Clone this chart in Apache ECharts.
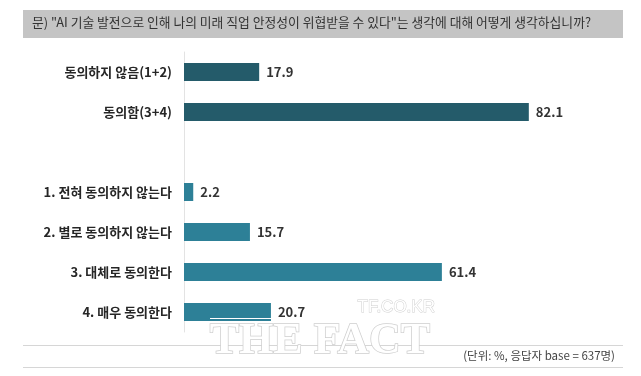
<!DOCTYPE html>
<html>
<head>
<meta charset="utf-8">
<script src="https://cdn.jsdelivr.net/npm/echarts@6/dist/echarts.min.js"></script>
<style>
  html, body { margin: 0; padding: 0; background: #fff; }
  #chart { width: 641px; height: 376px; }
</style>
</head>
<body>
<div id="chart"></div>
<script>
// 항목 (빈 칸은 두 묶음 사이 간격)
var categories = ['동의하지 않음(1+2)', '동의함(3+4)', '', '1. 전혀 동의하지 않는다', '2. 별로 동의하지 않는다', '3. 대체로 동의한다', '4. 매우 동의한다'];
var values = [17.9, 82.1, '-', 2.2, 15.7, 61.4, 20.7];
var barColors = ['#245b6a', '#245b6a', '#245b6a', '#2d8097', '#2d8097', '#2d8097', '#2d8097'];

var titleText = '문) "AI 기술 발전으로 인해 나의 미래 직업 안정성이 위협받을 수 있다"는 생각에 대해 어떻게 생각하십니까?';
var noteText = '(단위: %, 응답자 base = 637명)';

var font = '"Noto Sans CJK KR", "Noto Sans", sans-serif';

var chart = echarts.init(document.getElementById('chart'));
var option = {
    backgroundColor: '#fff',
    animation: false,
    grid: { left: 184, top: 52, width: 420, height: 280, containLabel: false },
    xAxis: {
        type: 'value', min: 0, max: 100,
        show: false
    },
    yAxis: {
        type: 'category',
        data: categories,
        inverse: true,
        axisLine: { show: true, lineStyle: { color: '#e3e3e3', width: 1 } },
        axisTick: { show: false },
        axisLabel: {
            margin: 12,
            fontFamily: font,
            fontSize: 13,
            fontWeight: 'bold',
            color: '#262626'
        }
    },
    series: [{
        type: 'bar',
        barWidth: 18,
        data: values.map(function (v, i) {
            return { value: v, itemStyle: { color: barColors[i] } };
        }),
        label: {
            show: true,
            position: 'right',
            distance: 7,
            fontFamily: font,
            fontSize: 13,
            fontWeight: 'bold',
            color: '#333'
        }
    }],
    graphic: [
        // 질문 박스
        { type: 'rect', left: 23, top: 10, shape: { width: 600, height: 28 }, style: { fill: '#c4c4c4' }, z: 0 },
        { type: 'text', left: 32, top: 16, style: { text: titleText, font: '12.8px ' + font, fill: '#333' }, z: 1 },
        // 하단 선 & 주석
        { type: 'rect', left: 23, top: 345, shape: { width: 600, height: 1 }, style: { fill: '#d6d6d6' } },
        { type: 'rect', left: 23, top: 367, shape: { width: 600, height: 1 }, style: { fill: '#d6d6d6' } },
        { type: 'text', right: 26, top: 350, style: { text: noteText, font: '11.5px ' + font, fill: '#444' } },
        // 워터마크
        { type: 'rect', left: 210, top: 318, z: 10, shape: { width: 220, height: 1 }, style: { fill: '#fff' } },
        { type: 'text', left: 357, top: 298, z: 10, style: { text: 'TF.CO.KR', font: '17px "Liberation Sans", sans-serif', fill: '#fff', stroke: '#d0d0d0', lineWidth: 1 } },
        { type: 'text', left: 209, top: 319, z: 10, style: { text: 'THE FACT', font: 'bold 44px "Liberation Serif", "DejaVu Serif", serif', fill: '#fff', stroke: '#cfcfcf', lineWidth: 1.5 } }
    ]
};
chart.setOption(option);
</script>
</body>
</html>
